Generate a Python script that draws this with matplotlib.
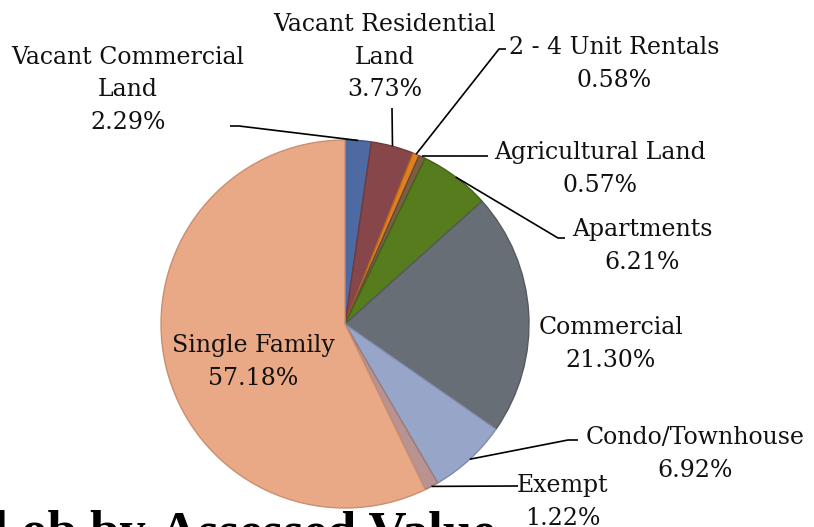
import matplotlib
matplotlib.use("Agg")
import matplotlib.pyplot as plt
import numpy as np

categories = ["Vacant Commercial Land", "Vacant Residential Land", "2 - 4 Unit Rentals",
              "Agricultural Land", "Apartments", "Commercial", "Condo/Townhouse",
              "Exempt", "Single Family"]
label_text = ["Vacant Commercial\nLand", "Vacant Residential\nLand", "2 - 4 Unit Rentals",
              "Agricultural Land", "Apartments", "Commercial", "Condo/Townhouse",
              "Exempt", "Single Family"]
values = [2.29, 3.73, 0.58, 0.57, 6.21, 21.30, 6.92, 1.22, 57.18]
colors = ["#4F6AA3", "#87474A", "#E07E22", "#7C5E45", "#567C1E",
          "#676E75", "#97A5C9", "#B99292", "#E9A986"]
edges = ["#3E5585", "#6E3A3C", "#B5661B", "#634B37", "#45631A",
         "#545A60", "#7F8BAA", "#9C7B7B", "#C98F71"]

W, H = 814, 527
fig = plt.figure(figsize=(W / 100, H / 100), dpi=100)
ax = fig.add_axes([0, 0, 1, 1])

cx, cy_pix, R = 345, 324, 184
cy = H - cy_pix
wedges, _ = ax.pie(values, colors=colors, startangle=90, counterclock=False,
                   center=(cx, cy), radius=R, frame=True,
                   wedgeprops=dict(linewidth=1.0))
for w, ec in zip(wedges, edges):
    w.set_edgecolor(ec)
ax.set_xlim(0, W)
ax.set_ylim(0, H)
ax.set_aspect("equal")
ax.axis("off")

font = dict(family="DejaVu Serif", fontsize=17, color="#111111")

def edge_point(i):
    w = wedges[i]
    ang = np.deg2rad((w.theta1 + w.theta2) / 2)
    return cx + R * np.cos(ang), cy + R * np.sin(ang)

# label centres in pixel coordinates (x, y from top)
label_pos = [(128, 90), (385, 57), (614, 64), (600, 169), (642, 246),
             (611, 344), (695, 454), (563, 502), (253, 362)]
# leader polylines: points from label side (pixel coords), ending at wedge edge
leaders = {
    0: [(230, 126), (239, 126)],
    1: [(392, 108)],
    2: [(506, 49), (499, 49)],
    3: [(488, 156)],
    4: [(565, 238), (558, 238)],
    6: [(578, 440), (568, 440)],
    7: [(518, 486)],
}

for i, (lab, v) in enumerate(zip(label_text, values)):
    x, y = label_pos[i]
    ax.text(x, H - y, f"{lab}\n{v:.2f}%", ha="center", va="center",
            linespacing=1.55, **font)
    if i in leaders:
        pts = [(px, H - py) for px, py in leaders[i]]
        ex, ey = edge_point(i)
        if i == 3:
            pts.append((ex, pts[-1][1]))
        else:
            pts.append((ex, ey))
        xs, ys = zip(*pts)
        ax.plot(xs, ys, color="black", lw=1.2, solid_capstyle="butt")

title_font = dict(family="Liberation Serif", fontsize=38, fontweight="bold", color="black")
ax.text(146, H - 547, "al ob by", ha="right", va="baseline", clip_on=False, **title_font)
ax.text(160, H - 547, "Assessed Value", ha="left", va="baseline", clip_on=False, **title_font)

fig.savefig("out.png", dpi=100)
